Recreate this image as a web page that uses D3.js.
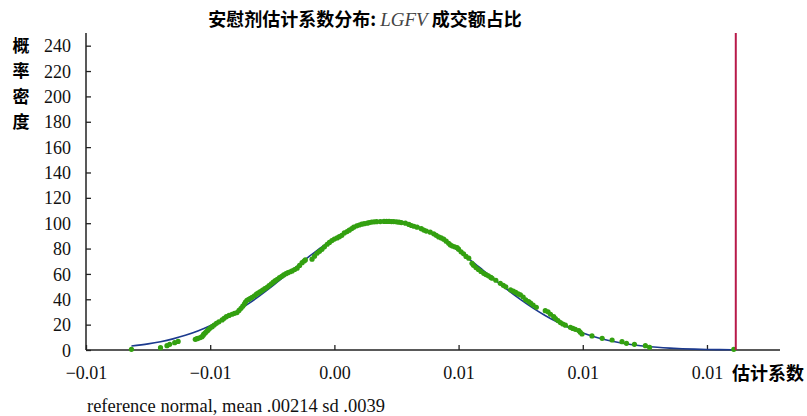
<!DOCTYPE html>
<html><head><meta charset="utf-8">
<script src="https://cdn.jsdelivr.net/npm/d3@7"></script>
<style>
body{margin:0;background:#fff;}
svg{display:block;}
</style></head>
<body>
<svg id="chart" width="807" height="416"></svg>
<script>
// ---- data ----
const xTickValues = [-0.01, -0.005, 0, 0.005, 0.01, 0.015];
const xTickLabels = ["\u22120.01", "\u22120.01", "0.00", "0.01", "0.01", "0.01"];
const yTickValues = [0, 20, 40, 60, 80, 100, 120, 140, 160, 180, 200, 220, 240];
const actualEstimate = 0.01616;
// reference normal curve (mean .00214 sd .0039)
const normalX = [-0.00817,-0.0075,-0.007,-0.0065,-0.006,-0.0055,-0.005,-0.0045,-0.004,-0.0035,-0.003,-0.0025,-0.002,-0.0015,-0.001,-0.0005,0,0.0005,0.001,0.0015,0.002,0.00214,0.0025,0.003,0.0035,0.004,0.0045,0.005,0.0055,0.006,0.0065,0.007,0.0075,0.008,0.0085,0.009,0.0095,0.01,0.0105,0.011,0.0115,0.012,0.0125,0.013,0.0135,0.014,0.0145,0.015,0.0155,0.016,0.01616];
const normalY = [3.11,4.82,6.56,8.79,11.59,15.01,19.14,24.01,29.62,35.95,42.92,50.40,58.23,66.17,73.98,81.35,88.00,93.64,98.01,100.92,102.22,102.29,101.86,99.83,96.26,91.30,85.18,78.17,70.58,62.68,54.76,47.06,39.78,33.08,27.06,21.78,17.24,13.42,10.28,7.75,5.74,4.19,3.00,2.12,1.47,1.00,0.67,0.45,0.29,0.19,0.16];
// kernel density of placebo estimates (green markers)
const kdX = [-0.00817,-0.0070,-0.00674,-0.00663,-0.00643,-0.00629,
-0.0056,-0.00553,-0.00549,-0.0054,-0.00533,-0.00528,-0.00526,-0.0052,-0.00515,-0.0051,-0.00506,-0.005,-0.00492,-0.00484,-0.00475,-0.00465,-0.00452,-0.00444,-0.00435,-0.00424,-0.00412,-0.00402,-0.00392,-0.00384,-0.00376,-0.00369,-0.00362,-0.00358,-0.00352,-0.00345,-0.00338,-0.00331,-0.00322,-0.00314,-0.00306,-0.00298,-0.00289,-0.0028,-0.00271,-0.00263,-0.00254,-0.00246,-0.00238,-0.0023,-0.00221,-0.00212,-0.00204,-0.00195,-0.00187,-0.00178,-0.0017,-0.0016,-0.0015,-0.0014,-0.0013,-0.00122,-0.00117,
-0.0009,-0.0008,-0.0007,-0.0006,-0.0005,-0.0004,-0.00029,-0.0002,-0.0001,0.0,0.00011,0.0002,0.0003,0.0004,0.00051,0.0006,0.0007,0.00078,0.0009,0.001,0.0011,0.0012,0.00132,0.0014,0.0015,0.0016,0.0017,0.00185,0.002,0.0021,0.0022,0.0023,0.00239,0.0025,0.0026,0.0027,0.00286,0.003,0.0031,0.0032,0.00333,0.0035,0.0036,0.0037,0.00386,0.004,0.0041,0.0042,0.0043,0.0044,0.0045,0.0046,0.00467,0.00475,0.00484,0.00494,0.005,0.0051,0.0052,0.0053,0.00541,0.00554,0.0056,0.0057,0.0058,0.0059,0.00601,0.0061,0.0062,0.0063,0.00635,0.0065,0.00668,0.0068,0.0069,0.00709,0.0072,0.0073,0.0074,0.00749,0.0076,0.0077,0.00782,0.0079,0.008,0.00813,
0.00849,0.0086,0.0087,0.00883,0.0089,0.009,0.0091,0.0092,0.0093,0.0095,0.0096,0.0097,0.00984,0.0099,0.00997,
0.01037,0.01078,0.01118,0.01158,0.01176,0.01208,0.01252,0.01269,0.01608];
const kdY = [0.5,1.8,3.4,4.5,5.8,6.8,
8.4,8.9,9.2,9.8,10.5,11.6,12.6,13.5,14.5,15.4,16.3,17.3,18.4,19.7,21,22.2,23.7,25,26.3,27.3,28.2,28.9,29.5,31.2,32.9,34.6,36.3,37.8,39.2,39.9,40.8,41.6,42.8,44,45,46,47.2,48.4,49.5,50.8,52.2,53.5,54.7,55.8,57,58.1,59.2,60.2,61,61.7,62.4,63.5,64.5,66.7,68.9,70.2,71,
71.6,74,76.3,77.8,79.4,81.4,83.4,84.8,86.3,87.5,88.4,89.4,90.4,92.3,93.4,94.5,95.8,96.9,97.9,98.6,99.2,99.6,100,100.5,100.9,101.1,101.2,101.3,101.4,101.4,101.4,101.3,101.3,101.1,100.8,100.5,100,99,98.2,97.6,96.9,95.7,94.6,93.8,92.9,91.6,90.4,89.2,88.4,87.4,85.8,84.2,82.9,82,81.4,80.8,79.5,77.4,75.8,73.8,72.4,68.4,66.8,65,63.5,62,60.5,59.5,58.5,57.2,56.6,55,52.6,51,49.8,47.4,46.5,45.4,44.2,43.4,41.8,39.6,38.2,37,35.4,33.7,
31,30.1,28.2,26.3,24.8,23.2,21.6,20.5,19.6,17.9,17,16.3,15.3,14,12.6,
11.1,9.2,7.9,6.6,5.3,4.5,3.4,2.1,0.5];

// ---- drawing ----
const svg = d3.select("#chart");
const serif = "'Liberation Serif','Times New Roman',serif";
const cjk = "'Noto Sans CJK SC','Noto Sans',sans-serif";

const x = d3.scaleLinear().domain([-0.01, 0.01794]).range([86, 780]);
const y = d3.scaleLinear().domain([0, 250]).range([350, 33]);

// axes
const xAxis = d3.axisBottom(x).tickValues(xTickValues).tickSize(0).tickPadding(0).tickFormat((d,i)=>xTickLabels[i]);
const gx = svg.append("g").attr("transform","translate(0,350)").call(xAxis);
gx.select(".domain").remove();
gx.selectAll(".tick text").attr("font-family",serif).attr("font-size",18).attr("fill","#111").attr("dy",null).attr("y",29);
gx.selectAll(".tick").append("line").attr("y1",0).attr("y2",-5).attr("stroke","#222").attr("stroke-width",1.3);

const yAxis = d3.axisLeft(y).tickValues(yTickValues).tickSize(0).tickPadding(0);
const gy = svg.append("g").attr("transform","translate(86,0)").call(yAxis);
gy.select(".domain").remove();
gy.selectAll(".tick text").attr("font-family",serif).attr("font-size",18).attr("fill","#111").attr("x",-15).attr("dy","0.34em");
gy.selectAll(".tick").append("line").attr("x1",0).attr("x2",5).attr("stroke","#222").attr("stroke-width",1.3);

// axis lines
svg.append("line").attr("x1",86).attr("x2",86).attr("y1",33).attr("y2",350).attr("stroke","#222").attr("stroke-width",1.5);
svg.append("line").attr("x1",86).attr("x2",780).attr("y1",350).attr("y2",350).attr("stroke","#222").attr("stroke-width",1.5);

// normal curve
const normalData = normalX.map((v,i)=>[v, normalY[i]]);
svg.append("path").datum(normalData)
  .attr("d", d3.line().x(d=>x(d[0])).y(d=>y(d[1])).curve(d3.curveMonotoneX))
  .attr("fill","none").attr("stroke","#1c3a8e").attr("stroke-width",1.6);

// kernel density markers
const kdData = kdX.map((v,i)=>[v, kdY[i]]);
svg.append("g").selectAll("circle").data(kdData).join("circle")
  .attr("cx",d=>x(d[0])).attr("cy",d=>y(d[1])).attr("r",2.6).attr("fill","#33a010");

// actual estimate line
svg.append("line").attr("x1",x(actualEstimate)).attr("x2",x(actualEstimate)).attr("y1",33).attr("y2",350)
  .attr("stroke","#b81a4a").attr("stroke-width",2);

// title
const title = svg.append("text").attr("x",365).attr("y",26).attr("text-anchor","middle").attr("font-size",18);
title.append("tspan").attr("font-family",cjk).attr("font-weight","bold").attr("fill","#000").text("安慰剂估计系数分布: ");
title.append("tspan").attr("font-family",serif).attr("font-style","italic").attr("fill","#444").attr("font-size",19).text("LGFV");
title.append("tspan").attr("font-family",cjk).attr("font-weight","bold").attr("fill","#000").text(" 成交额占比");

// y label stacked
const yl = ["概","率","密","度"];
svg.append("g").selectAll("text").data(yl).join("text")
  .attr("x",21).attr("y",(d,i)=>y(240-20*i)).attr("dy","0.36em").attr("text-anchor","middle")
  .attr("font-family",cjk).attr("font-weight","bold").attr("font-size",17).attr("fill","#000").text(d=>d);

// x label
svg.append("text").attr("x",732).attr("y",380).attr("font-family",cjk).attr("font-weight","bold")
  .attr("font-size",18).attr("fill","#000").text("估计系数");

// note
svg.append("text").attr("x",87).attr("y",412).attr("font-family",serif).attr("font-size",18.5).attr("fill","#111")
  .text("reference normal, mean .00214 sd .0039");
</script>
</body></html>
